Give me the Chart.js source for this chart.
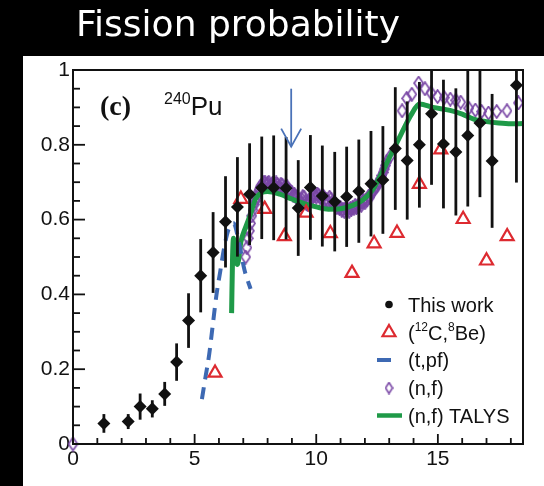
<!DOCTYPE html>
<html>
<head>
<meta charset="utf-8">
<script src="https://cdn.jsdelivr.net/npm/chart.js@4.4.1/dist/chart.umd.min.js"></script>
<style>
  html, body { margin: 0; padding: 0; background: #000; }
  #wrap { position: relative; width: 544px; height: 486px; overflow: hidden; }
  #title { position: absolute; left: 76px; top: 3px; color: #fff; font-family: 'DejaVu Sans', sans-serif; font-size: 36px; line-height: normal; white-space: nowrap; }
  canvas { position: absolute; left: 0; top: 0; }
</style>
</head>
<body>
<div id="wrap">
  <canvas id="c" width="544" height="486"></canvas>
  <div id="title">Fission probability</div>
</div>
<script>
// ---- This work: fission probability with uncertainties ----
const workE   = [1.27, 2.27, 2.76, 3.26, 3.77, 4.26, 4.75, 5.25, 5.76, 6.27, 6.76, 7.26, 7.76, 8.25, 8.76, 9.26, 9.76, 10.25, 10.76, 11.25, 11.75, 12.25, 12.74, 13.25, 13.74, 14.24, 14.74, 15.23, 15.74, 16.23, 16.73, 17.23, 18.23];
const workP   = [0.055, 0.060, 0.100, 0.094, 0.134, 0.219, 0.330, 0.450, 0.512, 0.594, 0.634, 0.668, 0.685, 0.685, 0.684, 0.631, 0.686, 0.663, 0.648, 0.661, 0.676, 0.696, 0.706, 0.790, 0.758, 0.800, 0.883, 0.802, 0.781, 0.825, 0.858, 0.757, 0.959];
const workErr = [0.025, 0.020, 0.035, 0.023, 0.032, 0.050, 0.073, 0.098, 0.108, 0.122, 0.133, 0.136, 0.137, 0.140, 0.137, 0.128, 0.140, 0.135, 0.133, 0.134, 0.138, 0.141, 0.144, 0.164, 0.158, 0.168, 0.190, 0.172, 0.170, 0.190, 0.198, 0.179, 0.260];

// ---- (12C,8Be) surrogate data ----
const cbeE = [5.84, 6.90, 7.88, 8.69, 9.58, 10.58, 11.47, 12.38, 13.32, 14.24, 15.12, 16.04, 17.00, 17.85];
const cbeP = [0.190, 0.655, 0.628, 0.555, 0.618, 0.563, 0.457, 0.536, 0.564, 0.695, 0.787, 0.601, 0.490, 0.555];

// ---- (t,pf) ----
const tpfE = [5.30, 5.45, 5.60, 5.75, 5.90, 6.05, 6.20, 6.40, 6.60, 6.85, 7.05, 7.30];
const tpfP = [0.120, 0.180, 0.240, 0.320, 0.400, 0.460, 0.520, 0.575, 0.590, 0.530, 0.465, 0.415];

// ---- (n,f) evaluated data ----
const nfE = [0.00,
  7.10, 7.15, 7.20, 7.25, 7.30, 7.35, 7.40, 7.45, 7.50, 7.55, 7.60, 7.65, 7.70, 7.75, 7.80, 7.85, 7.90, 7.95,
  8.00, 8.05, 8.10, 8.15, 8.20, 8.25, 8.30, 8.35, 8.40, 8.45, 8.50, 8.55, 8.60, 8.65, 8.70, 8.75, 8.80, 8.85, 8.90, 8.95,
  9.00, 9.05, 9.10, 9.15, 9.20, 9.25, 9.30, 9.35, 9.40, 9.45, 9.50, 9.55, 9.60, 9.65, 9.70, 9.75, 9.80, 9.85, 9.90, 9.95,
  10.00, 10.05, 10.10, 10.15, 10.20, 10.25, 10.30, 10.35, 10.40, 10.45, 10.50, 10.55, 10.60, 10.65, 10.70, 10.75, 10.80, 10.85, 10.90, 10.95,
  11.00, 11.05, 11.10, 11.15, 11.20, 11.25, 11.30, 11.35, 11.40, 11.45, 11.50, 11.55, 11.60, 11.65, 11.70, 11.75, 11.80, 11.85, 11.90, 11.95,
  12.00, 12.05, 12.10, 12.15, 12.20, 12.25, 12.30, 12.35, 12.40, 12.45, 12.50, 12.55, 12.60, 12.65, 12.70, 12.75, 12.80, 12.85, 12.90, 13.05,
  13.53, 13.72, 13.93, 14.21, 14.47, 14.72, 14.99, 15.26, 15.51, 15.74, 15.94, 16.27, 16.54, 16.80, 17.08, 17.42, 17.84, 18.31];
const nfP = [0.000,
  0.500, 0.525, 0.550, 0.570, 0.590, 0.610, 0.625, 0.640, 0.650, 0.660, 0.672, 0.680, 0.688, 0.692, 0.695, 0.700, 0.698, 0.692,
  0.696, 0.700, 0.692, 0.688, 0.697, 0.693, 0.690, 0.698, 0.694, 0.686, 0.688, 0.695, 0.692, 0.682, 0.684, 0.690, 0.688, 0.680, 0.678, 0.675,
  0.672, 0.665, 0.668, 0.662, 0.660, 0.655, 0.652, 0.650, 0.655, 0.662, 0.660, 0.648, 0.642, 0.640, 0.648, 0.652, 0.655, 0.665, 0.670, 0.664,
  0.660, 0.668, 0.665, 0.660, 0.658, 0.665, 0.662, 0.652, 0.655, 0.650, 0.648, 0.660, 0.655, 0.646, 0.645, 0.642, 0.640, 0.632, 0.636, 0.630,
  0.632, 0.625, 0.628, 0.622, 0.630, 0.626, 0.627, 0.622, 0.630, 0.628, 0.633, 0.630, 0.638, 0.632, 0.635, 0.640, 0.642, 0.638, 0.648, 0.650,
  0.645, 0.652, 0.655, 0.662, 0.660, 0.668, 0.672, 0.678, 0.682, 0.688, 0.690, 0.698, 0.702, 0.710, 0.718, 0.726, 0.735, 0.745, 0.755, 0.770,
  0.891, 0.924, 0.935, 0.965, 0.950, 0.939, 0.929, 0.926, 0.922, 0.919, 0.914, 0.898, 0.893, 0.889, 0.885, 0.889, 0.891, 0.912];

// ---- (n,f) TALYS calculation ----
const talysE = [6.52, 6.56, 6.60, 6.68, 6.76, 6.90, 7.10, 7.30, 7.50, 7.75, 8.00, 8.50, 9.00, 9.50, 10.00, 10.50, 11.00, 11.50, 11.90, 12.30, 12.70, 13.10, 13.50, 13.90, 14.25, 14.80, 15.50, 16.00, 16.50, 17.00, 17.50, 18.00, 18.50];
const talysP = [0.350, 0.500, 0.550, 0.500, 0.480, 0.540, 0.580, 0.615, 0.655, 0.672, 0.675, 0.668, 0.655, 0.643, 0.634, 0.628, 0.629, 0.638, 0.652, 0.678, 0.725, 0.778, 0.830, 0.880, 0.909, 0.900, 0.892, 0.882, 0.868, 0.862, 0.858, 0.856, 0.857];

// ---- axes ----
const xTickLabels = ['0', '5', '10', '15'];
const yTickLabels = ['0', '0.2', '0.4', '0.6', '0.8', '1'];

// ---- annotations ----
const arrowE = 8.97;            // marker arrow energy
const arrowFromTo = [0.95, 0.795];
const legendLabels = [
  [['This work', false]],
  [['(', false], ['12', true], ['C,', false], ['8', true], ['Be)', false]],
  [['(t,pf)', false]],
  [['(n,f)', false]],
  [['(n,f) TALYS', false]]
];

const pts = (xs, ys) => xs.map((x, i) => ({ x: x, y: ys[i] }));

const COL = { black: '#111', red: '#dd2a30', blue: '#3d69b3', purple: '#7a48a6', green: '#1f9a48', arrow: '#4a72b8' };

// open tall diamond used for the (n,f) points
function diamondSprite(w, h, color, lw) {
  const c = document.createElement('canvas');
  c.width = w; c.height = h;
  const g = c.getContext('2d');
  g.strokeStyle = color; g.lineWidth = lw;
  g.beginPath();
  g.moveTo(w / 2, 1); g.lineTo(w - 1, h / 2); g.lineTo(w / 2, h - 1); g.lineTo(1, h / 2); g.closePath();
  g.stroke();
  return c;
}
const nfMarker = diamondSprite(11, 15, COL.purple, 1.7);
const nfLegendMarker = diamondSprite(9, 13, COL.purple, 1.6);

const FONT = "'Liberation Sans', Arial, sans-serif";

const paperPlugin = {
  id: 'paper',
  beforeDraw(chart) {
    const ctx = chart.ctx;
    ctx.save();
    ctx.fillStyle = '#000';
    ctx.fillRect(0, 0, chart.width, chart.height);
    ctx.fillStyle = '#fff';
    ctx.fillRect(23, 56, chart.width - 23, chart.height - 56);
    ctx.restore();
  }
};

const errorBarPlugin = {
  id: 'errorBars',
  beforeDatasetDraw(chart, args) {
    if (args.index !== 0) return;
    const ctx = chart.ctx, xs = chart.scales.x, ys = chart.scales.y, a = chart.chartArea;
    ctx.save();
    ctx.beginPath();
    ctx.rect(a.left, a.top, a.right - a.left, a.bottom - a.top);
    ctx.clip();
    ctx.strokeStyle = COL.black;
    ctx.lineWidth = 2.8;
    workE.forEach((e, i) => {
      const px = xs.getPixelForValue(e);
      ctx.beginPath();
      ctx.moveTo(px, ys.getPixelForValue(workP[i] - workErr[i]));
      ctx.lineTo(px, ys.getPixelForValue(workP[i] + workErr[i]));
      ctx.stroke();
    });
    ctx.restore();
  }
};

const framePlugin = {
  id: 'frame',
  afterDatasetsDraw(chart) {
    const ctx = chart.ctx, xs = chart.scales.x, ys = chart.scales.y, a = chart.chartArea;
    ctx.save();
    ctx.strokeStyle = '#111';
    ctx.lineWidth = 2;
    ctx.strokeRect(a.left, a.top, a.right - a.left, a.bottom - a.top);
    ctx.lineWidth = 1.8;
    // inward ticks on the energy axis: every 1, long every 5
    for (let e = 1; e <= 18; e++) {
      const px = xs.getPixelForValue(e);
      const len = e % 5 === 0 ? 10 : 6;
      ctx.beginPath(); ctx.moveTo(px, a.bottom); ctx.lineTo(px, a.bottom - len); ctx.stroke();
    }
    // inward ticks on the probability axis: every 0.05, long every 0.2
    for (let k = 1; k < 20; k++) {
      const py = ys.getPixelForValue(k * 0.05);
      const len = k % 4 === 0 ? 12 : 7;
      ctx.beginPath(); ctx.moveTo(a.left, py); ctx.lineTo(a.left + len, py); ctx.stroke();
    }
    // arrow marking the energy of interest
    const ax = xs.getPixelForValue(arrowE);
    const y0 = ys.getPixelForValue(arrowFromTo[0]);
    const y1 = ys.getPixelForValue(arrowFromTo[1]);
    ctx.strokeStyle = COL.arrow;
    ctx.lineWidth = 1.8;
    ctx.beginPath(); ctx.moveTo(ax, y0); ctx.lineTo(ax, y1); ctx.stroke();
    ctx.beginPath(); ctx.moveTo(ax - 10, y1 - 18); ctx.lineTo(ax, y1); ctx.lineTo(ax + 10, y1 - 18); ctx.stroke();
    ctx.restore();
  }
};

function drawRich(ctx, segs, x, y, size) {
  let cx = x;
  segs.forEach(([t, sup]) => {
    ctx.font = (sup ? Math.round(size * 0.62) : size) + 'px ' + FONT;
    ctx.fillText(t, cx, sup ? y - size * 0.42 : y);
    cx += ctx.measureText(t).width;
  });
}

const labelsPlugin = {
  id: 'labels',
  afterDraw(chart) {
    const ctx = chart.ctx, a = chart.chartArea;
    ctx.save();
    ctx.fillStyle = '#111';
    ctx.textBaseline = 'alphabetic';
    ctx.textAlign = 'left';
    // panel label and nucleus
    ctx.font = "bold 28px 'Liberation Serif', 'Times New Roman', serif";
    ctx.fillText('(c)', a.left + 27, a.top + 45);
    drawRich(ctx, [['240', true], ['Pu', false]], a.left + 91, a.top + 45, 26);

    // legend
    const lx = 389, tx = 408;
    const base = [311.5, 339.5, 367, 395, 422.5];
    base.forEach((b, i) => {
      const my = b - 7;
      ctx.save();
      if (i === 0) {
        ctx.fillStyle = '#111';
        ctx.beginPath(); ctx.arc(lx, my, 3.8, 0, Math.PI * 2); ctx.fill();
      } else if (i === 1) {
        const r = 7.5;
        ctx.strokeStyle = COL.red; ctx.lineWidth = 2.2;
        ctx.beginPath();
        ctx.moveTo(lx, my - r);
        ctx.lineTo(lx + r * 0.866, my + r * 0.5);
        ctx.lineTo(lx - r * 0.866, my + r * 0.5);
        ctx.closePath(); ctx.stroke();
      } else if (i === 2) {
        ctx.strokeStyle = COL.blue; ctx.lineWidth = 4;
        ctx.beginPath(); ctx.moveTo(lx - 12, my); ctx.lineTo(lx + 2, my); ctx.stroke();
      } else if (i === 3) {
        ctx.drawImage(nfLegendMarker, lx - nfLegendMarker.width / 2, my - nfLegendMarker.height / 2);
      } else {
        ctx.strokeStyle = COL.green; ctx.lineWidth = 4.5;
        ctx.beginPath(); ctx.moveTo(lx - 12, my); ctx.lineTo(lx + 13, my); ctx.stroke();
      }
      ctx.restore();
      ctx.fillStyle = '#111';
      drawRich(ctx, legendLabels[i], tx, b, 20);
    });
    ctx.restore();
  }
};

new Chart(document.getElementById('c'), {
  type: 'scatter',
  data: {
    datasets: [
      {
        label: 'This work',
        data: pts(workE, workP),
        pointStyle: 'rectRot',
        pointRadius: 6.5,
        backgroundColor: COL.black,
        borderColor: COL.black,
        borderWidth: 0
      },
      {
        label: '(12C,8Be)',
        data: pts(cbeE, cbeP),
        pointStyle: 'triangle',
        pointRadius: 7.5,
        backgroundColor: 'rgba(0,0,0,0)',
        borderColor: COL.red,
        borderWidth: 2.2
      },
      {
        label: '(t,pf)',
        data: pts(tpfE, tpfP),
        showLine: true,
        pointRadius: 0,
        borderColor: COL.blue,
        borderWidth: 4,
        borderDash: [12, 8],
        cubicInterpolationMode: 'monotone',
        fill: false
      },
      {
        label: '(n,f) TALYS',
        data: pts(talysE, talysP),
        showLine: true,
        pointRadius: 0,
        borderColor: COL.green,
        borderWidth: 5,
        borderJoinStyle: 'round',
        cubicInterpolationMode: 'monotone',
        fill: false
      },
      {
        label: '(n,f)',
        data: pts(nfE, nfP),
        pointStyle: nfMarker,
        pointRadius: 6,
        clip: false
      }
    ]
  },
  options: {
    responsive: false,
    animation: false,
    devicePixelRatio: 1,
    events: [],
    layout: { padding: { top: 70, right: 21, left: 0, bottom: 0 } },
    plugins: { legend: { display: false }, tooltip: { enabled: false }, title: { display: false } },
    scales: {
      x: {
        type: 'linear', min: 0, max: 18.5,
        afterFit(s) { s.height = 42; },
        grid: { display: false, drawTicks: false, tickLength: 0 },
        border: { display: false },
        ticks: {
          stepSize: 5, includeBounds: false, padding: 3, maxRotation: 0, autoSkip: false,
          color: '#111', font: { family: FONT, size: 21 },
          callback: (v, i) => xTickLabels[i]
        }
      },
      y: {
        type: 'linear', min: 0, max: 1,
        afterFit(s) { s.width = 73; },
        grid: { display: false, drawTicks: false, tickLength: 0 },
        border: { display: false },
        ticks: {
          stepSize: 0.2, padding: 3, autoSkip: false,
          color: '#111', font: { family: FONT, size: 21 },
          callback: (v, i) => yTickLabels[i]
        }
      }
    }
  },
  plugins: [paperPlugin, errorBarPlugin, framePlugin, labelsPlugin]
});
</script>
</body>
</html>
